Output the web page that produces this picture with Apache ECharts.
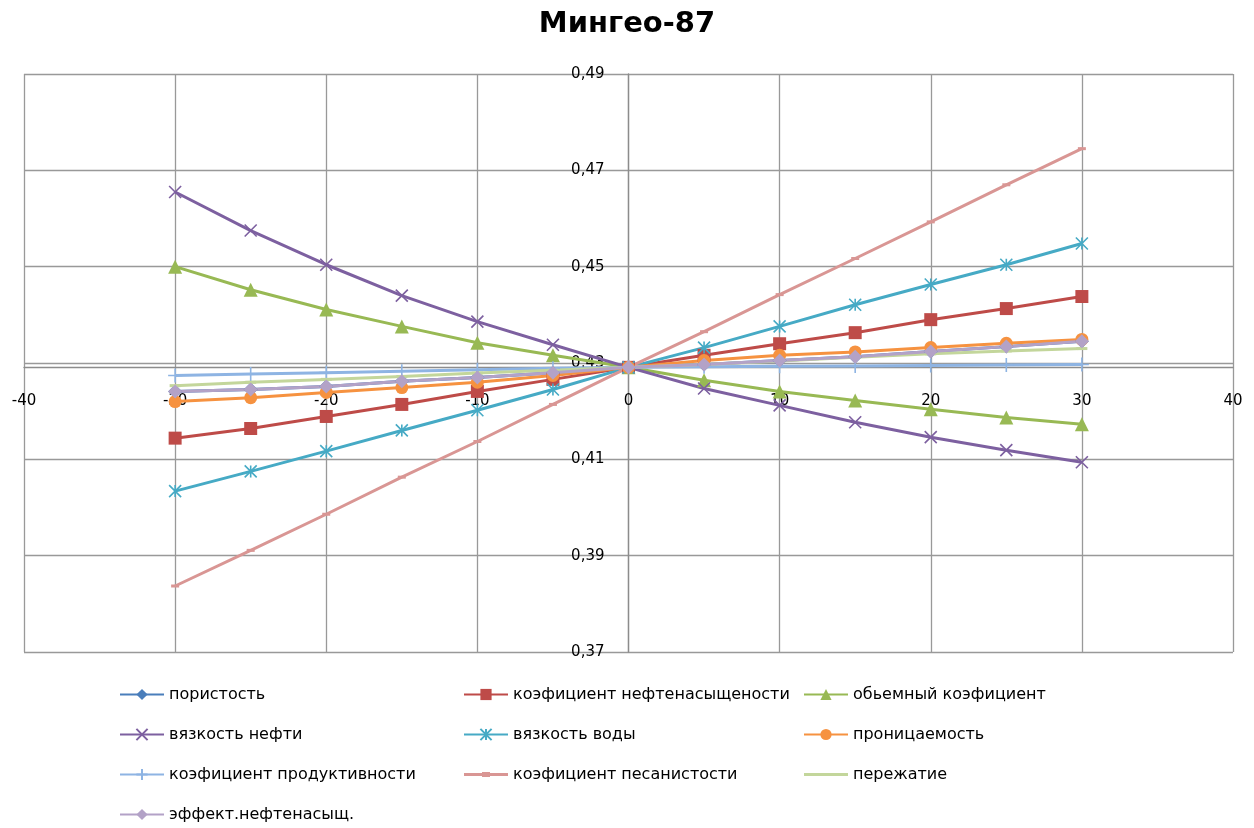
<!DOCTYPE html>
<html>
<head>
<meta charset="utf-8">
<title>Мингео-87</title>
<script src="https://cdn.jsdelivr.net/npm/echarts@6/dist/echarts.min.js"></script>
<style>
  html, body { margin: 0; padding: 0; background: #fff; }
  #chart { width: 1254px; height: 828px; }
</style>
</head>
<body>
<div id="chart"></div>
<script>
// Change of the parameter, %
const xValues = [-30, -25, -20, -15, -10, -5, 0, 5, 10, 15, 20, 25, 30];

// Result for each parameter
const poristost      = [0.4241, 0.4245, 0.4251, 0.4262, 0.4270, 0.4280, 0.4291, 0.4297, 0.4305, 0.4313, 0.4324, 0.4334, 0.4345];
const neftenas       = [0.4144, 0.4164, 0.4189, 0.4214, 0.4241, 0.4266, 0.4291, 0.4316, 0.4340, 0.4363, 0.4390, 0.4413, 0.4438];
const obemny         = [0.4500, 0.4452, 0.4411, 0.4376, 0.4342, 0.4316, 0.4291, 0.4264, 0.4241, 0.4222, 0.4204, 0.4187, 0.4173];
const vyazkostNefti  = [0.4655, 0.4575, 0.4504, 0.4440, 0.4386, 0.4338, 0.4291, 0.4247, 0.4212, 0.4177, 0.4146, 0.4119, 0.4094];
const vyazkostVody   = [0.4034, 0.4075, 0.4117, 0.4160, 0.4202, 0.4245, 0.4291, 0.4332, 0.4376, 0.4421, 0.4463, 0.4504, 0.4548];
const pronitsaemost  = [0.4220, 0.4228, 0.4239, 0.4249, 0.4260, 0.4274, 0.4291, 0.4305, 0.4316, 0.4323, 0.4332, 0.4341, 0.4349];
const produktivnost  = [0.4274, 0.4277, 0.4280, 0.4283, 0.4286, 0.4289, 0.4291, 0.4292, 0.4293, 0.4294, 0.4295, 0.4296, 0.4297];
const pesanistost    = [0.3837, 0.3911, 0.3986, 0.4063, 0.4137, 0.4214, 0.4291, 0.4365, 0.4442, 0.4517, 0.4593, 0.4670, 0.4745];
const perezhatie     = [0.4253, 0.4260, 0.4266, 0.4272, 0.4279, 0.4285, 0.4291, 0.4297, 0.4304, 0.4312, 0.4319, 0.4325, 0.4330];
const effektNeftenas = [0.4241, 0.4245, 0.4251, 0.4262, 0.4270, 0.4280, 0.4291, 0.4297, 0.4305, 0.4313, 0.4324, 0.4334, 0.4345];

// Axis ranges and the values where the axes cross
const xTicks = { min: -40, max: 40, step: 10 };
const yTicks = { min: 0.37, max: 0.49, step: 0.02 };
const baseValue = 0.4291;   // horizontal axis crosses here
const crossX = 0;           // vertical axis crosses here

const names = [
  'пористость', 'коэфициент нефтенасыщености', 'обьемный коэфициент',
  'вязкость нефти', 'вязкость воды', 'проницаемость',
  'коэфициент продуктивности', 'коэфициент песанистости', 'пережатие',
  'эффект.нефтенасыщ.'
];
const values = [poristost, neftenas, obemny, vyazkostNefti, vyazkostVody,
  pronitsaemost, produktivnost, pesanistost, perezhatie, effektNeftenas];

const colors = ['#4A7EBB', '#BE4B48', '#98B954', '#7D60A0', '#46AAC5',
  '#F69240', '#8EB4E3', '#D99694', '#C3D69B', '#B3A2C7'];

const X_PATH = 'path://M0,0L10,10M10,0L0,10';
const STAR_PATH = 'path://M5,0L5,10M0,0L10,10M10,0L0,10';
const PLUS_PATH = 'path://M5,0L5,10M0,5L10,5';

const markers = [
  { symbol: 'diamond', size: 14 },
  { symbol: 'rect', size: 13 },
  { symbol: 'triangle', size: 14 },
  { symbol: X_PATH, size: 12, stroke: true },
  { symbol: STAR_PATH, size: 12, stroke: true },
  { symbol: 'circle', size: 13 },
  { symbol: PLUS_PATH, size: 14, stroke: true },
  { symbol: 'rect', size: [8, 3] },
  { symbol: 'rect', size: [11, 3] },
  { symbol: 'diamond', size: 14 }
];

// legend icons for the dash markers: a line with a short dash on it
const DASH_ICON = 'path://M0,1h44v3H0Z M18,0h8v5h-8Z';
const LINE_ICON = 'path://M0,0h44v3H0Z';

const series = names.map((name, i) => {
  const m = markers[i];
  const c = colors[i];
  return {
    name: name,
    type: 'line',
    data: xValues.map((x, k) => [x, values[i][k]]),
    symbol: m.symbol,
    symbolSize: m.size,
    showAllSymbol: true,
    lineStyle: { color: c, width: 3 },
    itemStyle: m.stroke
      ? { color: c, borderColor: c, borderWidth: 1.6 }
      : { color: c, borderWidth: 0 },
    emphasis: { disabled: true },
    animation: false
  };
});

const FONT = 'DejaVu Sans';
const legendBase = {
  orient: 'vertical',
  top: 686,
  height: 142,
  padding: 0,
  itemWidth: 44,
  itemHeight: 14,
  itemGap: 23,
  selectedMode: false,
  textStyle: { fontFamily: FONT, fontSize: 16, color: '#000', lineHeight: 17 }
};

const gridLeft = 24, gridRight = 21, gridTop = 74, gridBottom = 176;
const gridW = 1254 - gridLeft - gridRight;
const gridH = 828 - gridTop - gridBottom;

const chart = echarts.init(document.getElementById('chart'), null, { renderer: 'canvas' });
chart.setOption({
  backgroundColor: '#fff',
  animation: false,
  color: colors,
  title: {
    text: 'Мингео-87',
    left: 'center',
    top: 5,
    textStyle: { fontFamily: FONT, fontSize: 29, fontWeight: 'bold', color: '#000' }
  },
  legend: [
    Object.assign({}, legendBase, { left: 119, data: [names[0], names[3], names[6], names[9]] }),
    Object.assign({}, legendBase, { left: 463, data: [
      names[1], names[4], { name: names[7], icon: DASH_ICON }] }),
    Object.assign({}, legendBase, { left: 803, data: [
      names[2], names[5], { name: names[8], icon: LINE_ICON }] })
  ],
  grid: {
    left: gridLeft, right: gridRight, top: gridTop, bottom: gridBottom,
    containLabel: false, outerBoundsMode: 'none'
  },
  xAxis: {
    type: 'value',
    min: xTicks.min,
    max: xTicks.max,
    interval: xTicks.step,
    position: 'bottom',
    offset: -(baseValue - yTicks.min) / (yTicks.max - yTicks.min) * gridH,
    axisLine: { show: true, onZero: false, lineStyle: { color: '#8c8c8c', width: 1.3 } },
    axisTick: { show: false },
    axisLabel: { margin: 26, fontFamily: FONT, fontSize: 15, color: '#000' },
    splitLine: { show: true, lineStyle: { color: '#999', width: 1.3 } }
  },
  yAxis: {
    type: 'value',
    min: yTicks.min,
    max: yTicks.max,
    interval: yTicks.step,
    position: 'left',
    offset: -(crossX - xTicks.min) / (xTicks.max - xTicks.min) * gridW,
    axisLine: { show: true, onZero: false, lineStyle: { color: '#8c8c8c', width: 1.3 } },
    axisTick: { show: false },
    axisLabel: {
      margin: 24,
      fontFamily: FONT,
      fontSize: 15,
      color: '#000',
      formatter: v => v.toFixed(2).replace('.', ',')
    },
    splitLine: { show: true, lineStyle: { color: '#999', width: 1.3 } }
  },
  series: series
});
</script>
</body>
</html>
